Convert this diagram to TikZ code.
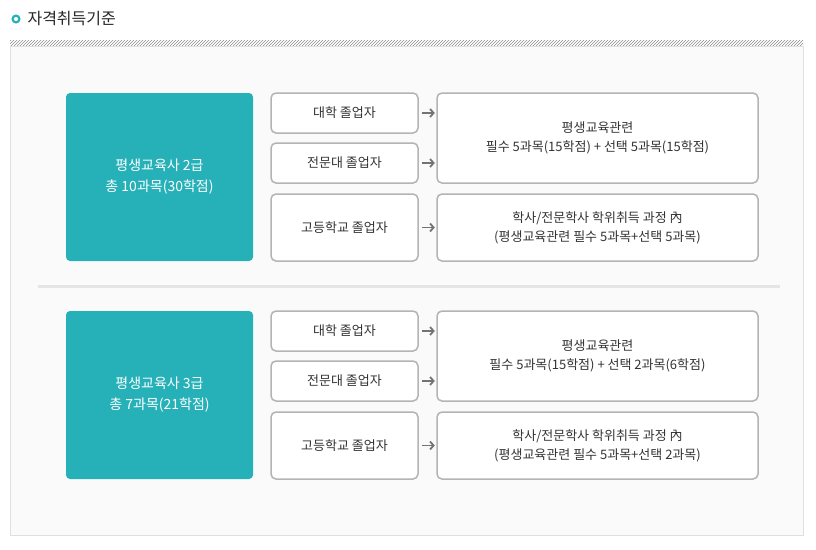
\documentclass[tikz,border=0pt]{standalone}
\usepackage{fontspec}
\setmainfont{Noto Sans CJK KR}
\usetikzlibrary{patterns,arrows.meta}
\definecolor{teal1}{HTML}{26B1B8}
\definecolor{boxline}{HTML}{B4B4B4}
\tikzset{
  gradebox/.style={fill=teal1,draw=none,rounded corners=4pt,text=white,font=\fontsize{14}{21}\selectfont,align=center},
  whobox/.style={draw=boxline,line width=1.5pt,fill=white,rounded corners=5pt,font=\fontsize{13}{19}\selectfont,text=black!80,align=center},
  rulebox/.style={whobox},
  arr/.style={->,draw=black!55,line width=1.8pt,>={Straight Barb[length=3.5pt,width=8pt]}}
}
\begin{document}
\begin{tikzpicture}[x=1pt,y=-1pt]
\useasboundingbox (0,0) rectangle (816,549);
% header
\draw[teal1,line width=2.2pt] (16,19) circle[radius=3.4];
\node[anchor=west,font=\fontsize{16}{18}\selectfont,text=black!85] (title) at (24,19) {자격취득기준};
\fill[pattern=north east lines,pattern color=black!45] (10,40) rectangle (803,46);
\draw[draw=black!12,fill=black!2] (10,46) rectangle (803,535);
\fill[black!10] (38,284.5) rectangle (780,288);
% two groups
\foreach \g/\dy/\lvl/\tot/\sel/\selc in {1/0/2/10과목(30학점)/5과목(15학점)/5, 2/218/3/7과목(21학점)/2과목(6학점)/2}
{
  \begin{scope}[yshift=-\dy pt]
    \node[gradebox,minimum width=187,minimum height=168] (grade\g) at (159.5,177) {평생교육사 \lvl{}급\\총 \tot};
    \node[whobox,minimum width=147,minimum height=40] (univ\g) at (344.5,113) {대학 졸업자};
    \node[whobox,minimum width=147,minimum height=40] (coll\g) at (344.5,163) {전문대 졸업자};
    \node[whobox,minimum width=147,minimum height=67] (high\g) at (344.5,227.5) {고등학교 졸업자};
    \node[rulebox,minimum width=321,minimum height=90] (rule\g) at (597.5,138) {평생교육관련\\필수 5과목(15학점) + 선택 \sel};
    \node[rulebox,minimum width=321,minimum height=67] (deg\g) at (597.5,227.5) {학사/전문학사 학위취득 과정 內\\(평생교육관련 필수 5과목+선택 \selc{}과목)};
    \draw[arr] (univ\g.east) ++(3,0) -- ++(13,0);
    \draw[arr] (coll\g.east) ++(3,0) -- ++(13,0);
    \draw[arr] (high\g.east) ++(3,0) -- ++(13,0);
  \end{scope}
}
\end{tikzpicture}
\end{document}
